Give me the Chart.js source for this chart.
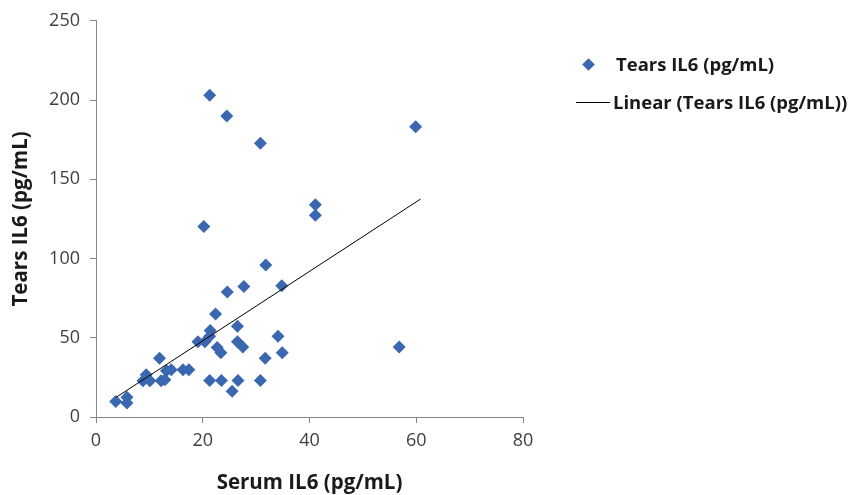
<!DOCTYPE html>
<html>
<head>
<meta charset="utf-8">
<script src="https://cdn.jsdelivr.net/npm/chart.js@4/dist/chart.umd.min.js"></script>
<style>
  html, body { margin: 0; padding: 0; background: #fff; }
  #wrap { position: relative; width: 854px; height: 495px; }
  #c { position: absolute; left: 0; top: 0; }
  .lg { position: absolute; font-family: "Open Sans", sans-serif; font-weight: bold; font-size: 18.5px; color: #1a1a1a; white-space: nowrap; line-height: 22px; }
  .dia { position: absolute; width: 9px; height: 9px; background: #3a67b0; transform: rotate(45deg); }
  .ln { position: absolute; height: 1px; background: #000; }
</style>
</head>
<body>
<div id="wrap">
  <canvas id="c" width="854" height="495"></canvas>
  <div class="dia" style="left:584px; top:60px;"></div>
  <div class="lg" style="left:616px; top:53px;">Tears IL6 (pg/mL)</div>
  <div class="ln" style="left:576px; top:102px; width:34px;"></div>
  <div class="lg" style="left:613px; top:91px;">Linear (Tears IL6 (pg/mL))</div>
</div>
<script>
// Data
const serumIL6 = [3.7, 5.8, 5.8, 8.8, 9.4, 10.1, 11.9, 12.2, 12.9, 13.2, 14.1, 16.3, 17.4,
  19.1, 20.4, 21.4, 21.3, 22.4, 22.7, 23.4, 21.3, 23.5, 25.5, 26.6, 26.5, 26.5, 27.5,
  30.8, 31.7, 34.1, 34.9, 20.2, 31.8, 27.7, 24.6, 34.8, 41.1, 41.1, 21.3, 24.5, 30.8, 59.9, 56.8];
const tearsIL6 = [9.8, 12.5, 8.8, 22.9, 26.7, 22.9, 37.1, 22.9, 23.5, 29.2, 29.8, 29.8, 29.8,
  47.5, 47.5, 54.6, 51.0, 65.0, 43.8, 40.6, 23.0, 23.0, 16.3, 23.0, 57.3, 47.5, 44.2,
  23.0, 37.1, 51.0, 40.6, 120.2, 95.9, 82.3, 78.8, 82.8, 134.0, 127.3, 203.0, 190.0, 172.7, 183.1, 44.2];
// Linear trendline endpoints
const trendX = [3.8, 60.8];
const trendY = [12.5, 137.5];
const xTicks = [0, 20, 40, 60, 80];
const yTicks = [0, 50, 100, 150, 200, 250];
const seriesName = "Tears IL6 (pg/mL)";
const xTitle = "Serum IL6 (pg/mL)";
const yTitle = "Tears IL6 (pg/mL)";

const pts = serumIL6.map((x, i) => ({ x: x, y: tearsIL6[i] }));
const trend = trendX.map((x, i) => ({ x: x, y: trendY[i] }));

const axisColor = '#868686';
const tickFont = { family: 'Open Sans', size: 18 };
const titleFont = { family: 'Open Sans', size: 20.5, weight: 'bold' };

new Chart(document.getElementById('c'), {
  type: 'scatter',
  data: {
    datasets: [
      {
        label: 'Linear (' + seriesName + ')',
        data: trend,
        showLine: true,
        borderColor: '#000',
        borderWidth: 1,
        pointRadius: 0,
        order: 0
      },
      {
        label: seriesName,
        data: pts,
        pointStyle: 'rectRot',
        pointRadius: 6.5,
        pointBackgroundColor: '#3a67b0',
        pointBorderColor: '#3a67b0',
        pointBorderWidth: 0,
        order: 1
      }
    ]
  },
  options: {
    responsive: false,
    animation: false,
    layout: { padding: { left: 9, right: 331, top: 17, bottom: 0 } },
    plugins: { legend: { display: false }, tooltip: { enabled: false } },
    scales: {
      x: {
        type: 'linear',
        min: xTicks[0], max: xTicks[xTicks.length - 1],
        afterBuildTicks: (s) => { s.ticks = xTicks.map(v => ({ value: v })); },
        afterFit: (s) => { s.height = 78; },
        border: { color: axisColor, width: 1 },
        grid: { drawOnChartArea: false, color: axisColor, tickLength: 6 },
        ticks: { color: '#404040', font: tickFont, padding: 7, maxRotation: 0 },
        title: { display: true, text: xTitle, color: '#1a1a1a', font: titleFont, padding: { top: 4, bottom: 0 } }
      },
      y: {
        type: 'linear',
        min: yTicks[0], max: yTicks[yTicks.length - 1],
        afterBuildTicks: (s) => { s.ticks = yTicks.map(v => ({ value: v })); },
        afterFit: (s) => { s.width = 87; },
        border: { color: axisColor, width: 1 },
        grid: { drawOnChartArea: false, color: axisColor, tickLength: 6 },
        ticks: { color: '#404040', font: tickFont, padding: 10 },
        title: { display: true, text: yTitle, color: '#1a1a1a', font: titleFont, padding: 0 }
      }
    }
  }
});
</script>
</body>
</html>
